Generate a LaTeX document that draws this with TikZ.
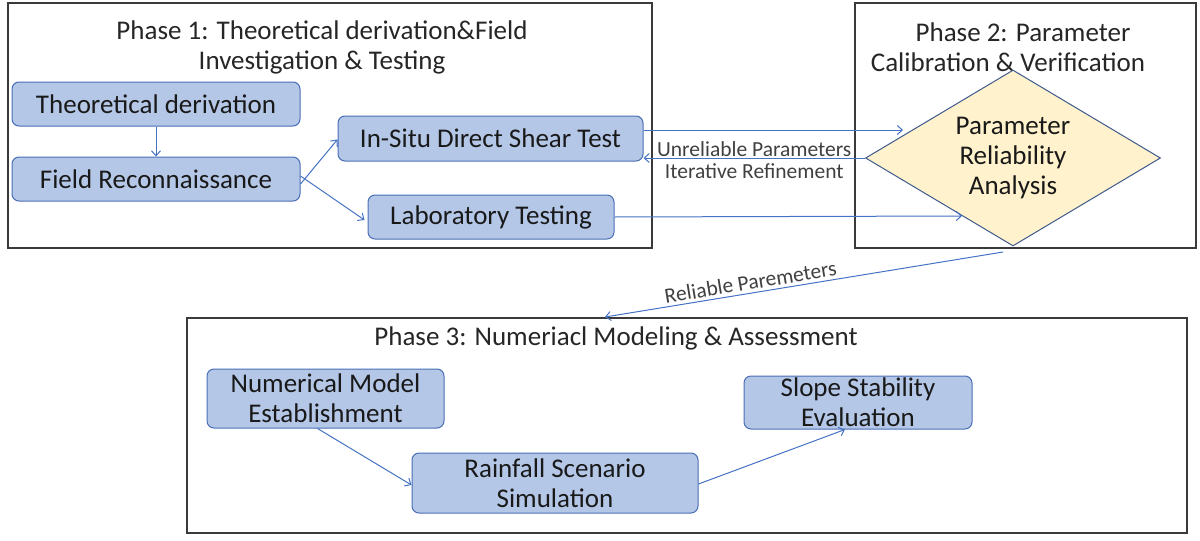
\documentclass[tikz,border=0pt]{standalone}
\usepackage{fontspec}
\setmainfont{Carlito}
\usetikzlibrary{shapes.geometric,arrows.meta,calc}
\definecolor{nodefill}{HTML}{B4C7E7}
\definecolor{nodedraw}{HTML}{4A6FB5}
\definecolor{arrcol}{HTML}{4472C4}
\definecolor{diafill}{HTML}{FFF2CC}
\definecolor{diadraw}{HTML}{3E5A8C}
\definecolor{framecol}{HTML}{3A3A3A}
\tikzset{
  phasebox/.style={draw=framecol,line width=1.2pt,rectangle,inner sep=0pt},
  phasetitle/.style={font=\fontsize{27}{30}\selectfont,align=center,text=black!85,inner sep=0pt},
  procbox/.style={draw=nodedraw,fill=nodefill,line width=1pt,rounded corners=7pt,
    font=\fontsize{27}{30}\selectfont,align=center,inner sep=0pt,text=black!90},
  decision/.style={diamond,draw=diadraw,fill=diafill,line width=1pt,shape aspect=1.676,
    minimum width=295pt,minimum height=176pt,inner sep=0pt,text width=120pt,
    font=\fontsize{27}{30}\selectfont,align=center,text=black!90},
  arr/.style={draw=arrcol,line width=1pt,-{Straight Barb[length=5pt,width=9pt]}},
  lbl/.style={font=\fontsize{21.5}{23}\selectfont,text=black!75,inner sep=1pt}
}
\begin{document}
\begin{tikzpicture}[x=1pt,y=-1pt]
\useasboundingbox (0,0) rectangle (1200,541);
% phase frames
\node[phasebox,minimum width=644pt,minimum height=245pt] (p1) at (330,125.5) {};
\node[phasebox,minimum width=341pt,minimum height=245pt] (p2) at (1025.5,125.5) {};
\node[phasebox,minimum width=1000pt,minimum height=215pt] (p3) at (687,425.5) {};
\node[phasetitle] (t1) at (322,47) {Phase 1: Theoretical derivation\&Field\\Investigation \& Testing};
\node[phasetitle] (t2) at (1008,47) {\hspace*{30pt}Phase 2: Parameter\\Calibration \& Verification};
\node[phasetitle] (t3) at (616,338) {Phase 3: Numeriacl Modeling \& Assessment};
% phase 1 nodes
\node[procbox,minimum width=288pt,minimum height=44pt] (theo) at (156,104) {Theoretical derivation};
\node[procbox,minimum width=288pt,minimum height=44pt] (field) at (156,179) {Field Reconnaissance};
\node[procbox,minimum width=305pt,minimum height=45pt] (insitu) at (490.5,138.5) {In-Situ Direct Shear Test};
\node[procbox,minimum width=246pt,minimum height=44pt] (lab) at (491,217) {Laboratory Testing};
% decision
\node[decision] (dia) at (1013,158) {\raisebox{-3pt}{\parbox{120pt}{\centering Parameter\\Reliability\\Analysis}}};
% phase 3 nodes
\node[procbox,minimum width=237pt,minimum height=59pt] (num) at (325.5,398.5) {Numerical Model\\Establishment};
\node[procbox,minimum width=286pt,minimum height=60pt] (rain) at (555,483) {Rainfall Scenario\\Simulation};
\node[procbox,minimum width=228pt,minimum height=53pt] (slope) at (858,402.5) {Slope Stability\\Evaluation};
% free ends
\coordinate (a1) at (903,130);
\coordinate (a2) at (962,216);
\coordinate (rs) at (1003,252);
\coordinate (re) at (605,317);
% connectors
\draw[arr] (theo) -- (field);
\draw[arr] ([yshift=-5pt]field.east) -- ([yshift=-1pt]insitu.west);
\draw[arr] ([yshift=3pt]field.east) -- ([xshift=-3pt,yshift=-3pt]lab.west);
\draw[arr] (insitu.east |- a1) -- (a1);
\draw[arr] (dia.west) -- (dia.west -| insitu.east)
  node[lbl,midway,above=0pt] {Unreliable Parameters}
  node[lbl,midway,below=4pt] {Iterative Refinement};
\draw[arr] (lab.east) -- (a2);
\draw[arr] (rs) -- (re) node[lbl,pos=0.63,sloped,above=2pt] {Reliable Paremeters};
\draw[arr] ([xshift=-8pt]num.south) -- ([yshift=-2pt]rain.west);
\draw[arr] ([yshift=-1pt]rain.east) -- ([xshift=-13pt]slope.south);
\end{tikzpicture}
\end{document}
